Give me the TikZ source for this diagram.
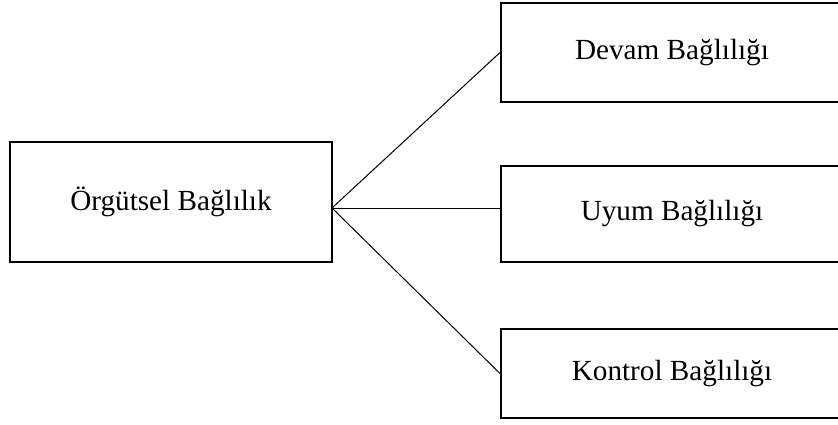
\documentclass[tikz,border=0pt]{standalone}
\usepackage{fontspec}
\setmainfont{Liberation Serif}
\usepackage{tikz}

\tikzset{
	kutu/.style={draw, line width=2pt, inner sep=0pt, font=\fontsize{29.2}{35}\selectfont},
	bag/.style={line width=1pt}
}

\begin{document}
\begin{tikzpicture}[x=1pt,y=-1pt]

	\useasboundingbox (0,0) rectangle (838,424);

	\node[kutu, minimum width=322, minimum height=120] (orgutsel) at (171,202) {Örgütsel Bağlılık};
	\node[kutu, minimum width=342, minimum height=99] (devam) at (672,52.5) {Devam Bağlılığı};
	\node[kutu, minimum width=342, minimum height=96] (uyum) at (672,214) {Uyum Bağlılığı};
	\node[kutu, minimum width=342, minimum height=89] (kontrol) at (672,373.5) {Kontrol Bağlılığı};

	\coordinate (merkez) at (332,208);
	\draw[bag] (merkez) -- (devam.west);
	\draw[bag] (merkez) -- (uyum.west |- merkez);
	\draw[bag] (merkez) -- (kontrol.west);

\end{tikzpicture}
\end{document}
